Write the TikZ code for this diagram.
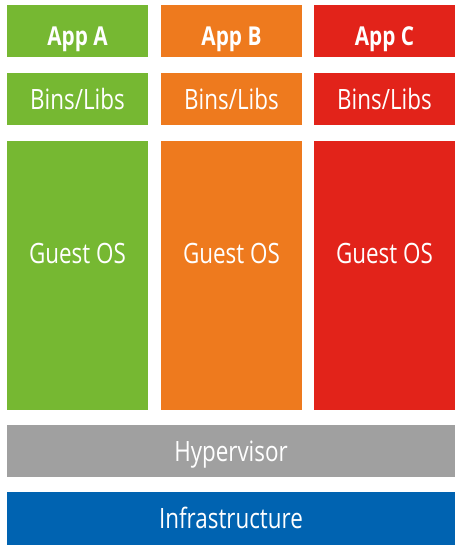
\documentclass[tikz,border=0pt]{standalone}
\usepackage{xcolor}
\usepackage{fontspec}
\setmainfont[FakeStretch=0.8]{Open Sans}
\usepackage{tikz}

\definecolor{appgreen}{RGB}{118,184,50}
\definecolor{apporange}{RGB}{238,122,30}
\definecolor{appred}{RGB}{226,35,26}
\definecolor{hypgray}{RGB}{160,160,160}
\definecolor{infblue}{RGB}{0,99,177}

\tikzset{
  layer/.style={rectangle, draw=none, inner sep=0pt, text=white, text height=20pt, text depth=0pt,
    font=\fontsize{28}{30}\selectfont},
}

\begin{document}
\begin{tikzpicture}[x=1pt, y=-1pt]
          \useasboundingbox (0,0) rectangle (464,552);
          \foreach \x/\c/\l [count=\xi from 1] in {77.5/appgreen/A, 231.5/apporange/B, 384.5/appred/C}{%
            \node[layer, fill=\c, minimum width=141, minimum height=52, text height=28pt, font=\bfseries\fontsize{26}{30}\selectfont] (app\l) at (\x, 31) {App \l};
            \node[layer, fill=\c, minimum width=141, minimum height=52] (bins\l) at (\x, 99) {Bins/Libs};
            \node[layer, fill=\c, minimum width=141, minimum height=269] (os\l) at (\x, 275.5) {};
            \node[layer] (ostext\l) at ([yshift=22.5pt] os\l.center) {Guest OS};
          }

          \node[layer, fill=hypgray, minimum width=448, minimum height=52] (hyp) at (231, 451) {Hypervisor};
          \node[layer, fill=infblue, minimum width=448, minimum height=53] (infra) at (231, 518.5) {Infrastructure};
        \end{tikzpicture}
\end{document}
